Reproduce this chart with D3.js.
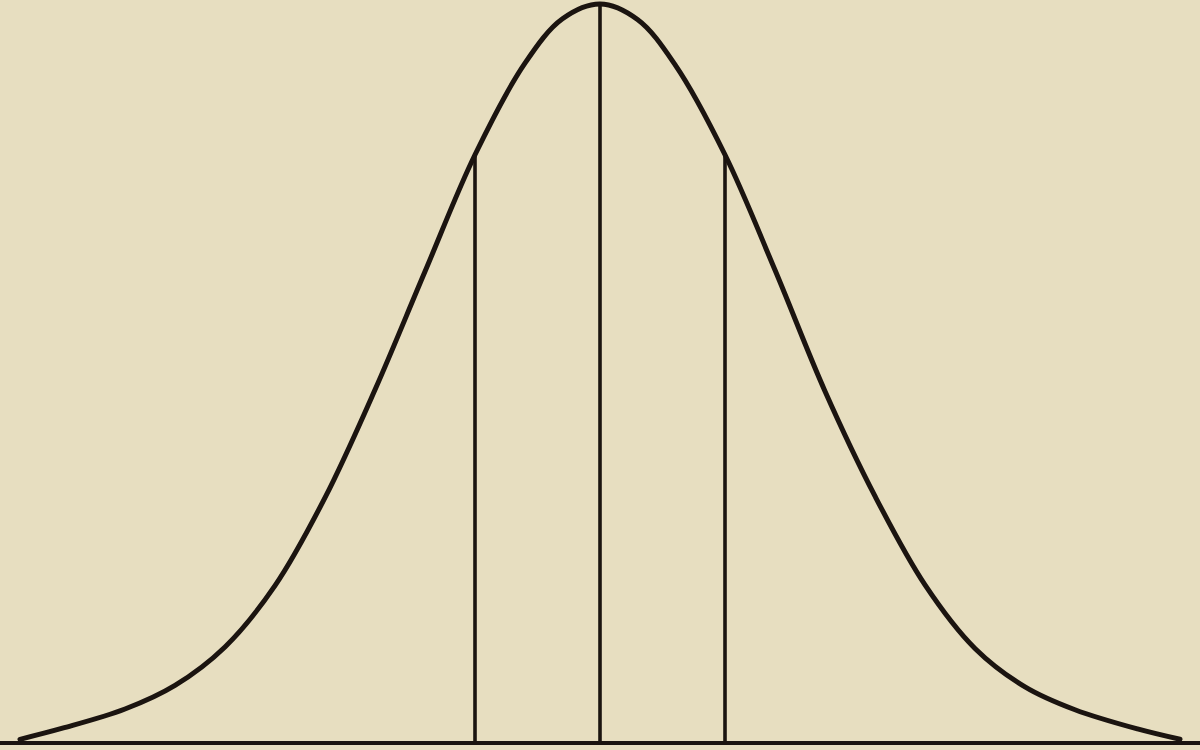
<!DOCTYPE html>
<html>
<head>
<meta charset="utf-8">
<script src="https://cdn.jsdelivr.net/npm/d3@7"></script>
<style>
  html, body { margin: 0; padding: 0; background: #e7dec0; }
  svg { display: block; }
</style>
</head>
<body>
<svg id="chart" width="1200" height="750"></svg>
<script>
// Deviations (in units of the probable error)
const deviations = [-4.64, -4.3, -3.8, -3.4, -3.0, -2.6, -2.2, -1.8, -1.4, -1.0, -0.6, -0.3, 0,
                    0.3, 0.6, 1.0, 1.4, 1.8, 2.2, 2.6, 3.0, 3.4, 3.8, 4.3, 4.64];
// Curve heights (percent of the maximum ordinate)
const heights = [0.5, 2.0, 4.6, 7.8, 13.0, 21.3, 33.2, 47.8, 63.8, 79.6, 92.0, 98.0, 100,
                 97.9, 91.8, 79.6, 64.0, 47.6, 33.4, 21.4, 12.8, 7.6, 4.5, 1.9, 0.5];
// Ordinates drawn at the mean and at plus/minus one probable error
const ordinateAt = [-1, 0, 1];
const ordinateHeight = [79.6, 100, 79.6];

const svg = d3.select("#chart");
const W = 1200;
const ink = "#1b1410";

const x = d3.scaleLinear().domain([-4.8, 4.8]).range([0, W]);
const y = d3.scaleLinear().domain([0, 100]).range([743, 4]);

const pts = deviations.map((d, i) => [d, heights[i]]);

// baseline
svg.append("line")
  .attr("x1", x(-4.8)).attr("x2", x(4.8))
  .attr("y1", y(0)).attr("y2", y(0))
  .attr("stroke", ink).attr("stroke-width", 4);

// ordinates
svg.selectAll("line.ord")
  .data(ordinateAt)
  .join("line")
  .attr("class", "ord")
  .attr("x1", d => x(d)).attr("x2", d => x(d))
  .attr("y1", y(0))
  .attr("y2", (d, i) => y(ordinateHeight[i]))
  .attr("stroke", ink).attr("stroke-width", 3.6);

// curve
const line = d3.line()
  .x(d => x(d[0]))
  .y(d => y(d[1]))
  .curve(d3.curveCatmullRom.alpha(0.5));

svg.append("path")
  .datum(pts)
  .attr("d", line)
  .attr("fill", "none")
  .attr("stroke", ink)
  .attr("stroke-width", 5)
  .attr("stroke-linecap", "round");
</script>
</body>
</html>
